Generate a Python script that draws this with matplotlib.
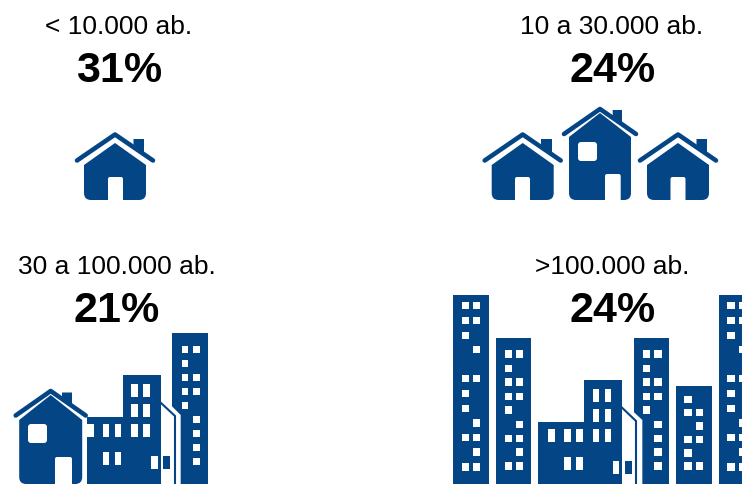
"""Share of population by municipality size, drawn as pictograms."""
import matplotlib
matplotlib.use("Agg")
import matplotlib.pyplot as plt
from matplotlib.patches import FancyBboxPatch, PathPatch, Polygon, Rectangle
from matplotlib.path import Path

plt.rcParams["font.family"] = ["Liberation Sans", "DejaVu Sans"]

CATEGORIES = ["< 10.000 ab.", "10 a 30.000 ab.", "30 a 100.000 ab.", ">100.000 ab."]
PERCENTS = [31, 24, 21, 24]

BLUE = "#034585"
L, R, B = "L", "R", "B"

# window patterns of the towers, top to bottom
ROWS_A = [(50, B), (95, B), (140, L), (183, R), (270, B), (315, L), (360, L),
          (403, R), (447, B), (490, R), (535, B)]
ROWS_B = [(196, B), (240, L), (280, B), (323, B), (364, L), (407, R), (450, B),
          (490, R), (532, B)]
ROWS_C = [(196, B), (240, L), (280, B), (323, B), (364, L), (407, R), (450, R),
          (490, R), (532, R)]
ROWS_D = [(332, L), (372, B), (412, R), (452, B), (493, L), (532, B)]

fig = plt.figure(figsize=(7.42, 4.84), dpi=100)
ax = fig.add_axes([0, 0, 1, 1])
ax.set_xlim(0, 742)
ax.set_ylim(484, 0)
ax.axis("off")


def rect(x0, y0, x1, y1, color=BLUE, z=2):
    ax.add_patch(Rectangle((x0, y0), x1 - x0, y1 - y0, fc=color, ec="none", zorder=z))


def house(cx, apex, end_y, span, half, body_top, shoulder, bottom, door, chimney, window=None):
    # chimney goes under the roof line
    c0, c1, ctop = chimney
    slope = (end_y - apex - 3) / span
    ax.add_patch(Polygon([(c0, ctop), (c1, ctop), (c1, apex + 3 + slope * (c1 - cx)),
                          (c0, apex + 3 + slope * (c0 - cx))], fc=BLUE, ec="none", zorder=2))
    ax.plot([cx - span, cx, cx + span], [end_y, apex + 3, end_y], color=BLUE, lw=3.3,
            solid_capstyle="round", solid_joinstyle="round", zorder=3)
    r = 7
    verts = [(cx, body_top), (cx + half, shoulder), (cx + half, bottom - r),
             (cx + half, bottom), (cx + half - r, bottom), (cx - half + r, bottom),
             (cx - half, bottom), (cx - half, bottom - r), (cx - half, shoulder), (cx, body_top)]
    codes = [Path.MOVETO, Path.LINETO, Path.LINETO, Path.CURVE3, Path.CURVE3, Path.LINETO,
             Path.CURVE3, Path.CURVE3, Path.LINETO, Path.CLOSEPOLY]
    ax.add_patch(PathPatch(Path(verts, codes), fc=BLUE, ec="none", zorder=2))
    d0, d1, dtop = door
    ax.add_patch(FancyBboxPatch((d0 + 2, dtop + 2), d1 - d0 - 4, bottom + 3 - dtop,
                                boxstyle="round,pad=2", fc="white", ec="none", zorder=4))
    if window:
        w0, y0, w1, y1 = window
        ax.add_patch(FancyBboxPatch((w0 + 3, y0 + 3), w1 - w0 - 6, y1 - y0 - 6,
                                    boxstyle="round,pad=3", fc="white", ec="none", zorder=4))


def zx(origin, v):
    return origin + v / 3


def tower(ox, oy, x0, x1, top, cols, rows, h=22, bottom=484):
    # all values in zoomed units of the crop that starts at (ox, oy)
    rect(zx(ox, x0), zx(oy, top), zx(ox, x1), bottom)
    for y, side in rows:
        for key, (c0, c1) in zip((L, R), cols):
            if side == B or side == key:
                rect(zx(ox, c0), zx(oy, y), zx(ox, c1), zx(oy, y + h), "white", 3)


def block(ox, oy, left, up0, up1, strip_x, upper_cols, lower_cols, low_rows_x):
    rect(zx(ox, up0), zx(oy, 286), zx(ox, up1), 484)
    rect(zx(ox, left), zx(oy, 410), zx(ox, up1), 484)
    for c0, c1 in upper_cols:
        for y0, y1 in [(313, 351), (372, 410), (431, 470)]:
            rect(zx(ox, c0), zx(oy, y0), zx(ox, c1), zx(oy, y1), "white", 3)
    for c0, c1 in lower_cols:
        rect(zx(ox, c0), zx(oy, 431), zx(ox, c1), zx(oy, 470), "white", 3)
    for c0, c1 in low_rows_x:
        rect(zx(ox, c0), zx(oy, 516), zx(ox, c1), zx(oy, 554), "white", 3)
    # narrow white side wall with a blue outline
    rect(zx(ox, up1 - 28), zx(oy, 528), zx(ox, up1 - 8), zx(oy, 566), "white", 3)
    ax.plot([zx(ox, up1), zx(ox, strip_x), zx(ox, strip_x)],
            [zx(oy, 368), zx(oy, 408), 486], color=BLUE, lw=1.5, zorder=3,
            solid_joinstyle="miter")
    rect(zx(ox, up1 + 8), zx(oy, 528), zx(ox, up1 + 29), zx(oy, 566), BLUE, 3)


def notch(ox, oy, x0, x1, y0, y1):
    # white cut at the lower-left corner of a tower next to the side wall
    ax.add_patch(Polygon([(zx(ox, x0 - 1), zx(oy, y0)), (zx(ox, x1), zx(oy, y1)),
                          (zx(ox, x1), 486), (zx(ox, x0 - 1), 486)],
                         fc="white", ec="none", zorder=2.5))


# labels
LABEL_X = [118.5, 612, 117, 612]
LABEL_Y = [27, 27, 267, 267]
VALUE_X = [119, 613, 117, 612.5]
VALUE_Y = [70.5, 70.5, 311, 311]
for i in range(4):
    ax.text(LABEL_X[i], LABEL_Y[i], CATEGORIES[i], ha="center", va="center", fontsize=19,
            color="black", zorder=6)
    ax.text(VALUE_X[i], VALUE_Y[i], f"{PERCENTS[i]}%", ha="center", va="center", fontsize=31,
            fontweight="bold", color="black", zorder=6)

# top left
house(115, 131.5, 160.5, 38, 31, 143, 165, 200, (108, 123, 177), (133.5, 144, 139))

# top right
house(522.7, 131.5, 160.5, 38, 31, 143, 165, 200, (515, 530, 177), (541, 552, 139))
house(678, 131.5, 160.5, 38, 31, 143, 165, 200, (670.5, 685.5, 177), (696.5, 707, 139))
house(600, 106, 134, 36, 31, 113, 137, 200, (605, 620.7, 174), (612.7, 622, 110),
      window=(578, 142, 597, 161))

# bottom left
tower(0, 280, 516, 623, 160, [(546, 564), (579, 600)],
      [(198, B), (240, L), (282, B), (323, B), (365, L), (408, R), (450, R), (491, R), (533, R)])
notch(0, 280, 516, 542, 378, 405)
block(0, 280, 260, 368, 482, 525, [(394, 413), (430, 449)], [(309, 328), (345, 364)],
      [(309, 328), (345, 364)])
rect(86.7, 424, 93.5, 436.7, "white", 3)
house(50.7, 388, 415.5, 35, 31.5, 395, 420, 484, (55, 72, 457), (62, 72, 392.5),
      window=(28, 424, 47, 443))

# bottom right
COLS_A = [(66, 87), (100, 120)]
COLS_B = [(194, 216), (228, 250)]
tower(440, 285, 40, 146, 30, COLS_A, ROWS_A)
tower(440, 285, 168, 274, 160, COLS_B, ROWS_B)
block(440, 285, 293, 432, 546, 588, [(458, 478), (494, 513)],
      [(323, 345), (373, 392), (408, 428)], [(373, 392), (408, 428)])
tower(440, 285, 581, 687, 160, [(608, 630), (642, 665)], ROWS_C)
notch(440, 285, 581, 607, 380, 405)
tower(440, 285, 708, 815, 304, [(733, 756), (768, 790)], ROWS_D)
tower(440, 285, 836, 960, 30, [(862, 884), (896, 918)], ROWS_A)

fig.savefig("out.png", dpi=100)
